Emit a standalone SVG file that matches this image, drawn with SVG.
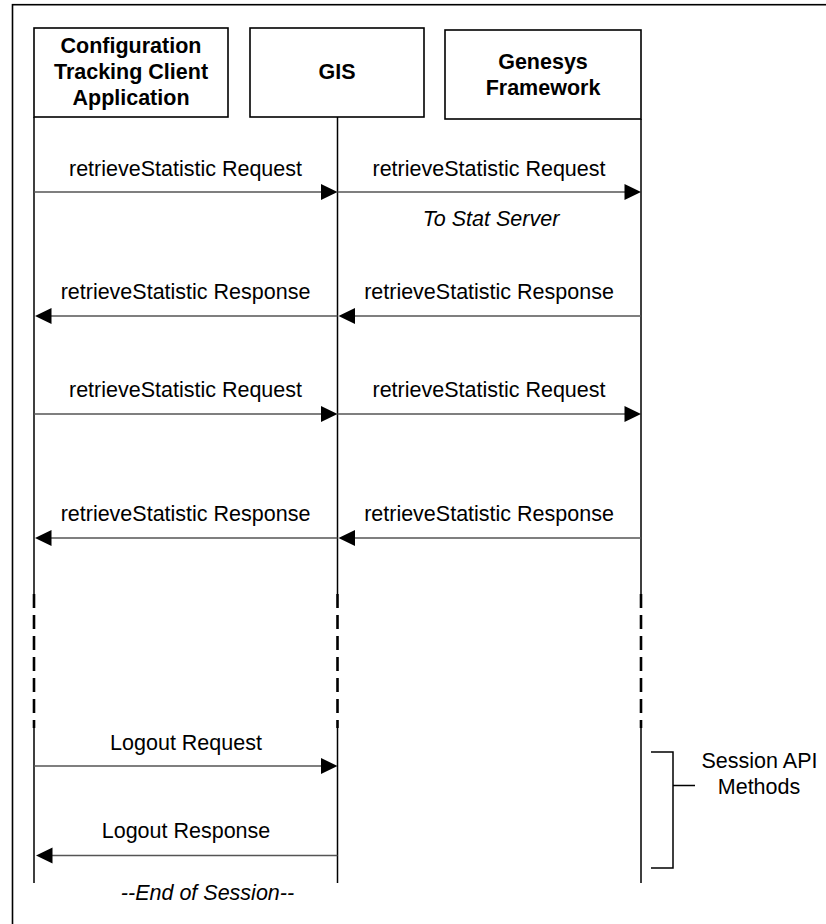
<svg xmlns="http://www.w3.org/2000/svg" width="826" height="924" viewBox="0 0 826 924">
<style>
text{font-family:"Liberation Sans",Arial,sans-serif;font-size:21.5px;fill:#000;text-anchor:middle}
.b{font-weight:bold}
.i{font-style:italic}
.box{fill:#fff;stroke:#000;stroke-width:1.6}
.life{stroke:#000;stroke-width:1.5;fill:none}
.dash{stroke:#000;stroke-width:2.6;stroke-dasharray:14 7;fill:none}
.msg{stroke:#555;stroke-width:1.4;fill:none}
.head{fill:#000}
.br{stroke:#000;stroke-width:1.5;fill:none}
</style>
<rect x="0" y="0" width="826" height="924" fill="#fff"/>
<rect x="12.5" y="4.7" width="840" height="940" fill="none" stroke="#000" stroke-width="1.6"/>

<g id="lifelines">
<path class="life" d="M34 117V594M34 728V883"/>
<path class="dash" d="M34 594V728"/>
<path class="life" d="M337.5 117V594M337.5 728V883"/>
<path class="dash" d="M337.5 594V728"/>
<path class="life" d="M641 119V594M641 728V883"/>
<path class="dash" d="M641 594V728"/>
</g>

<g id="node-client">
<rect class="box" x="34" y="28" width="194" height="89"/>
<text class="b" x="131" y="52.5">Configuration</text>
<text class="b" x="131" y="79">Tracking Client</text>
<text class="b" x="131" y="105">Application</text>
</g>
<g id="node-gis">
<rect class="box" x="250" y="28" width="174" height="89"/>
<text class="b" x="337" y="79">GIS</text>
</g>
<g id="node-genesys">
<rect class="box" x="445" y="30" width="196" height="89"/>
<text class="b" x="543" y="68.5">Genesys</text>
<text class="b" x="543" y="95">Framework</text>
</g>

<g id="connectors">
<line class="msg" x1="34" y1="192" x2="322" y2="192"/>
<path class="head" d="M337.5 192L321 184V200Z"/>
<text x="185.5" y="176">retrieveStatistic Request</text>

<line class="msg" x1="337.5" y1="192" x2="626" y2="192"/>
<path class="head" d="M641 192L624.5 184V200Z"/>
<text x="489" y="176">retrieveStatistic Request</text>
<text class="i" x="491" y="225.5">To Stat Server</text>

<line class="msg" x1="50" y1="316" x2="337.5" y2="316"/>
<path class="head" d="M35 316L51.5 308V324Z"/>
<text x="185.5" y="298.5">retrieveStatistic Response</text>

<line class="msg" x1="353" y1="316" x2="641" y2="316"/>
<path class="head" d="M338.5 316L355 308V324Z"/>
<text x="489" y="298.5">retrieveStatistic Response</text>

<line class="msg" x1="34" y1="414" x2="322" y2="414"/>
<path class="head" d="M337.5 414L321 406V422Z"/>
<text x="185.5" y="397">retrieveStatistic Request</text>

<line class="msg" x1="337.5" y1="414" x2="626" y2="414"/>
<path class="head" d="M641 414L624.5 406V422Z"/>
<text x="489" y="397">retrieveStatistic Request</text>

<line class="msg" x1="50" y1="538" x2="337.5" y2="538"/>
<path class="head" d="M35 538L51.5 530V546Z"/>
<text x="185.5" y="520.5">retrieveStatistic Response</text>

<line class="msg" x1="353" y1="538" x2="641" y2="538"/>
<path class="head" d="M338.5 538L355 530V546Z"/>
<text x="489" y="520.5">retrieveStatistic Response</text>

<line class="msg" x1="34" y1="766" x2="322" y2="766"/>
<path class="head" d="M337.5 766L321 758V774Z"/>
<text x="186" y="750">Logout Request</text>

<line class="msg" x1="51" y1="855.5" x2="337.5" y2="855.5"/>
<path class="head" d="M36 855.5L52.5 847.5V863.5Z"/>
<text x="186" y="838">Logout Response</text>

<text class="i" x="207.5" y="900">--End of Session--</text>
</g>

<g id="session-bracket">
<path class="br" d="M651 752H673V868H651M673 785.5H695"/>
<text x="759.5" y="767.5">Session API</text>
<text x="759" y="794">Methods</text>
</g>
</svg>
